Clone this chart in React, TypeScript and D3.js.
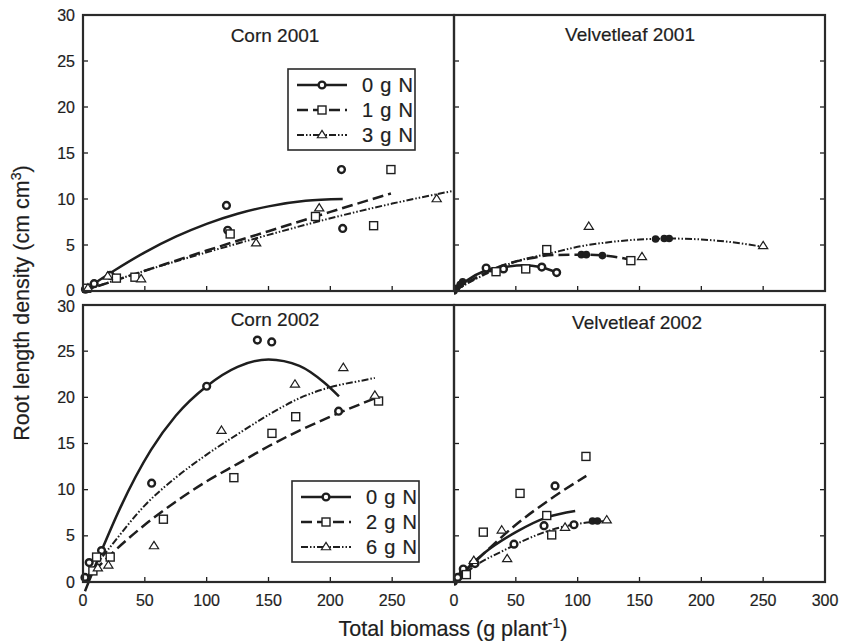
import React from "react";
import * as d3 from "d3";

// ---------- Data ----------
const xTicks = [0, 50, 100, 150, 200, 250, 300];
const yTicks = [0, 5, 10, 15, 20, 25, 30];
const panelTitles = ["Corn 2001", "Velvetleaf 2001", "Corn 2002", "Velvetleaf 2002"];
const legend2001 = ["0 g N", "1 g N", "3 g N"];
const legend2002 = ["0 g N", "2 g N", "6 g N"];

type P = [number, number];

// Corn 2001
const corn01_0N_obs: P[] = [[2, 0.2], [9, 0.8], [22, 1.7], [116, 9.3], [117, 6.6], [209, 13.2], [210, 6.8]];
const corn01_1N_obs: P[] = [[3, 0.3], [27, 1.4], [42, 1.5], [119, 6.2], [188, 8.1], [235, 7.1], [249, 13.2]];
const corn01_3N_obs: P[] = [[4, 0.3], [20, 1.6], [47, 1.3], [140, 5.2], [191, 9.0], [286, 10.0]];
const corn01_0N_fit: P[] = [[0, 0], [25, 2.2], [50, 4.2], [75, 5.9], [100, 7.3], [125, 8.4], [150, 9.2], [180, 9.8], [210, 10.0]];
const corn01_1N_fit: P[] = [[0, 0], [50, 2.2], [100, 4.4], [150, 6.5], [200, 8.6], [249, 10.6]];
const corn01_3N_fit: P[] = [[0, 0], [50, 2.2], [100, 4.2], [150, 6.1], [200, 7.9], [250, 9.5], [300, 10.9]];

// Velvetleaf 2001
const velv01_0N_obs: P[] = [[26, 2.5], [40, 2.4], [71, 2.6], [83, 2.0]];
const velv01_1N_obs: P[] = [[34, 2.1], [58, 2.4], [75, 4.5], [143, 3.3]];
const velv01_3N_obs: P[] = [[109, 7.0], [152, 3.7], [250, 4.9]];
const velv01_0N_fit: P[] = [[0, 0], [10, 1.1], [25, 2.2], [40, 2.6], [56, 2.8], [70, 2.6], [83, 2.0]];
const velv01_1N_fit: P[] = [[0, 0], [20, 1.6], [40, 2.8], [60, 3.5], [80, 3.9], [105, 3.95], [125, 3.8], [143, 3.4]];
const velv01_3N_fit: P[] = [[0, 0], [25, 1.8], [50, 3.2], [78, 4.1], [100, 4.8], [125, 5.3], [150, 5.6], [175, 5.7], [200, 5.6], [225, 5.3], [250, 4.8]];
const velv01_blobs: P[] = [[0, 0], [2, 0.3], [5, 0.7], [7, 1.0], [103, 3.95], [107, 3.95], [120, 3.85], [163, 5.65], [170, 5.7], [174, 5.7]];

// Corn 2002
const corn02_0N_obs: P[] = [[1.6, 0.5], [5, 2.1], [15, 3.4], [55.5, 10.7], [100, 21.2], [141, 26.2], [152.6, 26.0], [206.7, 18.5]];
const corn02_2N_obs: P[] = [[8, 1.2], [11, 2.7], [22, 2.7], [65, 6.8], [122, 11.3], [152.8, 16.1], [172, 17.9], [239, 19.6]];
const corn02_6N_obs: P[] = [[12, 1.5], [20.5, 1.8], [57.4, 3.9], [112, 16.4], [171.4, 21.4], [210.5, 23.2], [236, 20.2]];
const corn02_0N_fit: P[] = [[1.6, -1.0], [15, 3.4], [30, 8.0], [55, 14.3], [75, 18.0], [100, 21.2], [125, 23.3], [150, 24.1], [175, 23.4], [195, 21.6], [207, 20.1]];
const corn02_2N_fit: P[] = [[0, 0], [25, 3.3], [50, 6.2], [75, 8.7], [100, 10.9], [125, 12.8], [150, 14.7], [175, 16.4], [200, 17.9], [236, 19.9]];
const corn02_6N_fit: P[] = [[0, 0], [25, 4.3], [50, 8.3], [75, 11.3], [100, 13.8], [125, 16.0], [150, 18.1], [175, 19.9], [200, 21.1], [225, 21.8], [236, 22.1]];

// Velvetleaf 2002
const velv02_0N_obs: P[] = [[3, 0.5], [7.5, 1.4], [17, 2.0], [48.5, 4.1], [72.8, 6.1], [81.7, 10.4], [97, 6.2]];
const velv02_2N_obs: P[] = [[10, 0.8], [23.7, 5.4], [53.4, 9.6], [75, 7.2], [79, 5.1], [106.7, 13.6]];
const velv02_6N_obs: P[] = [[16, 2.3], [38.6, 5.6], [43, 2.5], [89.8, 5.9], [123.5, 6.7]];
const velv02_0N_fit: P[] = [[0, 0], [10, 1.4], [25, 3.2], [50, 5.4], [75, 7.0], [98, 7.7]];
const velv02_2N_fit: P[] = [[0, 0], [25, 3.2], [50, 6.2], [75, 8.7], [107, 11.5]];
const velv02_6N_fit: P[] = [[0, 0], [20, 2.0], [40, 3.4], [60, 4.7], [80, 5.7], [100, 6.3], [123, 6.6]];
const velv02_blobs: P[] = [[0, 0], [2, 0.3], [4, 0.6], [7, 1.0], [15, 2.0], [17, 2.1], [112, 6.6], [116, 6.6]];

// ---------- Layout ----------
const W = 841, H = 644;
const colX = [[83, 454], [454, 825]];
const rowY = [[15, 291], [305, 582]];
const INK = "#1e1e1e";
const FONT = "Liberation Sans, Arial, Helvetica, sans-serif";
const TXT = { fill: INK, fontFamily: FONT, stroke: INK, strokeWidth: 0.2 };

const styles = [
  { dash: "none", width: 2.5, marker: "circle" },
  { dash: "11,5", width: 2.5, marker: "square" },
  { dash: "7,2,1.5,2,1.5,2", width: 2, marker: "triangle" },
];

type Panel = {
  title: string;
  col: number;
  row: number;
  obs: P[][];
  fits: P[][];
  blobs: P[];
  titleX: number;
  titleY: number;
};

const panels: Panel[] = [
  { title: panelTitles[0], col: 0, row: 0, obs: [corn01_0N_obs, corn01_1N_obs, corn01_3N_obs], fits: [corn01_0N_fit, corn01_1N_fit, corn01_3N_fit], blobs: [], titleX: 275, titleY: 42 },
  { title: panelTitles[1], col: 1, row: 0, obs: [velv01_0N_obs, velv01_1N_obs, velv01_3N_obs], fits: [velv01_0N_fit, velv01_1N_fit, velv01_3N_fit], blobs: velv01_blobs, titleX: 630, titleY: 41 },
  { title: panelTitles[2], col: 0, row: 1, obs: [corn02_0N_obs, corn02_2N_obs, corn02_6N_obs], fits: [corn02_0N_fit, corn02_2N_fit, corn02_6N_fit], blobs: [], titleX: 275, titleY: 326 },
  { title: panelTitles[3], col: 1, row: 1, obs: [velv02_0N_obs, velv02_2N_obs, velv02_6N_obs], fits: [velv02_0N_fit, velv02_2N_fit, velv02_6N_fit], blobs: velv02_blobs, titleX: 637, titleY: 329 },
];

function Marker({ kind, x, y }: { kind: string; x: number; y: number }) {
  if (kind === "circle")
    return <circle cx={x} cy={y} r={3.4} fill="white" stroke={INK} strokeWidth={2.4} />;
  if (kind === "square")
    return <rect x={x - 4} y={y - 4} width={8} height={8} fill="white" stroke={INK} strokeWidth={1.4} />;
  const s = 4.6;
  return (
    <path d={`M${x},${y - s}L${x + s},${y + s * 0.6}L${x - s},${y + s * 0.6}Z`} fill="white" stroke={INK} strokeWidth={1.2} />
  );
}

function PanelView({ p }: { p: Panel }) {
  const [x0, x1] = colX[p.col];
  const [y0, y1] = rowY[p.row];
  const xs = d3.scaleLinear().domain([0, 300]).range([x0, x1]);
  const ys = d3.scaleLinear().domain([0, 30]).range([y1, y0]);
  const line = d3
    .line<P>()
    .x((d) => xs(d[0]))
    .y((d) => ys(d[1]))
    .curve(d3.curveMonotoneX);
  const clipId = `clip-${p.col}-${p.row}`;
  const yLabelY = (t: number) => {
    if (p.row === 0 && t === 0) return ys(t) + 5;
    if (p.row === 1 && t === 30) return ys(t) + 7;
    return ys(t) + 5.5;
  };
  return (
    <g>
      <defs>
        <clipPath id={clipId}>
          <rect x={x0} y={y0} width={x1 - x0} height={y1 - y0 + 14} />
        </clipPath>
      </defs>
      <text x={p.titleX} y={p.titleY} textAnchor="middle" fontSize={19} {...TXT}>
        {p.title}
      </text>
      {xTicks.slice(1, -1).map((t) => (
        <line key={"xt" + t} x1={xs(t)} x2={xs(t)} y1={y1} y2={y1 - 5} stroke={INK} strokeWidth={1.3} />
      ))}
      {yTicks.slice(1, -1).map((t) => (
        <line key={"yl" + t} x1={x0} x2={x0 + 5} y1={ys(t)} y2={ys(t)} stroke={INK} strokeWidth={1.3} />
      ))}
      {p.col === 1 &&
        yTicks.slice(1, -1).map((t) => (
          <line key={"yr" + t} x1={x1} x2={x1 - 5} y1={ys(t)} y2={ys(t)} stroke={INK} strokeWidth={1.3} />
        ))}
      <g clipPath={`url(#${clipId})`}>
        {p.fits.map((f, i) => (
          <path
            key={"f" + i}
            d={line(f) || ""}
            fill="none"
            stroke={INK}
            strokeWidth={styles[i].width}
            strokeDasharray={styles[i].dash}
          />
        ))}
        {p.blobs.map((b, i) => (
          <circle key={"b" + i} cx={xs(b[0])} cy={ys(b[1])} r={3.8} fill={INK} />
        ))}
      </g>
      {p.obs.map((series, i) =>
        series.map((d, j) => <Marker key={`o${i}-${j}`} kind={styles[i].marker} x={xs(d[0])} y={ys(d[1])} />)
      )}
      <rect x={x0} y={y0} width={x1 - x0} height={y1 - y0} fill="none" stroke="#2a2a2a" strokeWidth={2.2} />
      {p.col === 0 &&
        yTicks.map((t) => (
          <text key={"yl" + t} x={x0 - 8} y={yLabelY(t)} textAnchor="end" fontSize={16} {...TXT}>
            {t}
          </text>
        ))}
      {p.row === 1 &&
        (p.col === 0 ? xTicks.slice(0, -1) : xTicks).map((t) => (
          <text key={"xl" + t} x={xs(t)} y={y1 + 24} textAnchor="middle" fontSize={16} {...TXT}>
            {t}
          </text>
        ))}
    </g>
  );
}

function Legend({ x, y, labels }: { x: number; y: number; labels: string[] }) {
  const rows = [16, 41, 66];
  return (
    <g>
      <rect x={x} y={y} width={127} height={81} fill="white" stroke="#2a2a2a" strokeWidth={1.6} />
      {labels.map((lab, i) => (
        <g key={lab}>
          <line
            x1={x + 9}
            x2={x + 59}
            y1={y + rows[i]}
            y2={y + rows[i]}
            stroke={INK}
            strokeWidth={styles[i].width}
            strokeDasharray={styles[i].dash}
          />
          <Marker kind={styles[i].marker} x={x + 34} y={y + rows[i]} />
          <text x={x + 74} y={y + rows[i] + 7} fontSize={20} letterSpacing={0.8} {...TXT}>
            {lab}
          </text>
        </g>
      ))}
    </g>
  );
}

export default function App() {
  return (
    <svg width={W} height={H} style={{ display: "block", position: "absolute", left: 0, top: 0, background: "white" }}>
      <rect width={W} height={H} fill="white" />
      {panels.map((p) => (
        <PanelView key={p.title} p={p} />
      ))}
      <Legend x={288} y={69} labels={legend2001} />
      <Legend x={292} y={481} labels={legend2002} />
      <text transform="translate(29,303) rotate(-90)" textAnchor="middle" fontSize={21.5} {...TXT}>
        Root length density (cm cm
        <tspan dy={-8} fontSize={14}>3</tspan>
        <tspan dy={8}>)</tspan>
      </text>
      <text x={453} y={636} textAnchor="middle" fontSize={21.5} {...TXT}>
        Total biomass (g plant
        <tspan dy={-8} fontSize={14}>-1</tspan>
        <tspan dy={8}>)</tspan>
      </text>
    </svg>
  );
}
